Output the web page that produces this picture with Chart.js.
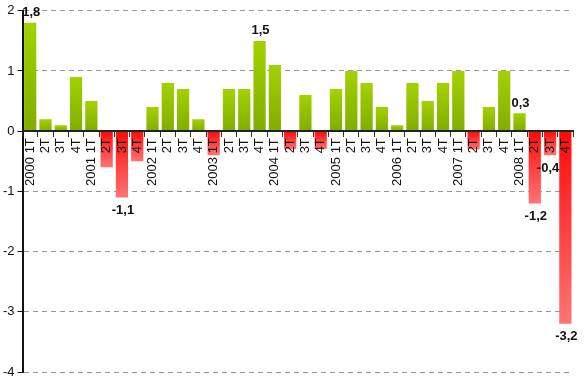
<!DOCTYPE html>
<html>
<head>
<meta charset="utf-8">
<script src="https://cdn.jsdelivr.net/npm/chart.js@4.4.0/dist/chart.umd.min.js"></script>
<style>
html,body{margin:0;padding:0;background:#fff;}
#wrap{width:588px;height:383px;}
</style>
</head>
<body>
<div id="wrap"><canvas id="c" width="588" height="383"></canvas></div>
<script>
const years = ["2000","2001","2002","2003","2004","2005","2006","2007","2008"];
const quarters = ["1T","2T","3T","4T"];
const values = [
  1.8, 0.2, 0.1, 0.9,
  0.5, -0.6, -1.1, -0.5,
  0.4, 0.8, 0.7, 0.2,
  -0.4, 0.7, 0.7, 1.5,
  1.1, -0.3, 0.6, -0.3,
  0.7, 1.0, 0.8, 0.4,
  0.1, 0.8, 0.5, 0.8,
  1.0, -0.3, 0.4, 1.0,
  0.3, -1.2, -0.4, -3.2
];
const labelledIdx = [0, 6, 15, 32, 33, 34, 35];
const yTicks = [2, 1, 0, -1, -2, -3, -4];

const categories = [];
years.forEach(y => quarters.forEach((q, i) => categories.push(i === 0 ? y + " 1T" : q)));

function barColor(ctx) {
  const chart = ctx.chart;
  const v = ctx.raw;
  if (!chart.chartArea || !chart.scales.y) return v >= 0 ? '#92c400' : '#ff3030';
  const ys = chart.scales.y;
  const y0 = ys.getPixelForValue(0);
  const y1 = ys.getPixelForValue(v);
  const top = Math.min(y0, y1), bot = Math.max(y0, y1);
  const g = chart.ctx.createLinearGradient(0, top, 0, bot > top ? bot : top + 1);
  if (v >= 0) {
    g.addColorStop(0, '#a2d200');
    g.addColorStop(1, '#82ac00');
  } else {
    g.addColorStop(0, '#ff0a0a');
    g.addColorStop(1, '#ff7474');
  }
  return g;
}

const labelPlugin = {
  id: 'vlabels',
  afterDatasetsDraw(chart) {
    const meta = chart.getDatasetMeta(0);
    const c = chart.ctx;
    c.save();
    c.font = 'bold 13px "Liberation Sans", Arial, sans-serif';
    c.fillStyle = '#111';
    c.textAlign = 'center';
    c.textBaseline = 'middle';
    labelledIdx.forEach(i => {
      const el = meta.data[i];
      const v = values[i];
      const txt = v.toFixed(1).replace('.', ',');
      const y = v >= 0 ? el.y - 10 : el.y + 13;
      const dx = (i === 34) ? -2 : 1;
      c.fillText(txt, el.x + dx, y);
    });
    c.restore();
  }
};

new Chart(document.getElementById('c'), {
  type: 'bar',
  data: {
    labels: categories,
    datasets: [{
      data: values,
      backgroundColor: barColor,
      borderWidth: 0,
      categoryPercentage: 0.8,
      barPercentage: 1.0
    }]
  },
  options: {
    responsive: false,
    animation: false,
    devicePixelRatio: 1,
    layout: { padding: { top: 4, right: 15, bottom: 11, left: 0 } },
    plugins: { legend: { display: false }, tooltip: { enabled: false } },
    scales: {
      x: {
        position: { y: 0 },
        offset: true,
        border: { display: true, color: '#222', width: 2, z: 1 },
        grid: { display: true, drawOnChartArea: false, drawTicks: true, tickLength: 5, color: '#333', offset: true, z: 1 },
        ticks: {
          z: 1,
          autoSkip: false, minRotation: 90, maxRotation: 90, padding: 2,
          color: '#111',
          font: { family: '"Liberation Sans", Arial, sans-serif', size: 13 }
        }
      },
      y: {
        min: -4, max: 2,
        afterBuildTicks(axis) { axis.ticks = yTicks.map(v => ({ value: v })); },
        border: { display: true, color: '#111', width: 2, dash: [5, 4] },
        grid: {
          color: '#999', lineWidth: 1, tickLength: 5,
          tickColor: '#111', tickBorderDash: [], tickWidth: 1
        },
        ticks: {
          padding: 3, color: '#111',
          font: { family: '"Liberation Sans", Arial, sans-serif', size: 13 },
          callback: v => String(v)
        }
      }
    }
  },
  plugins: [labelPlugin]
});
</script>
</body>
</html>
